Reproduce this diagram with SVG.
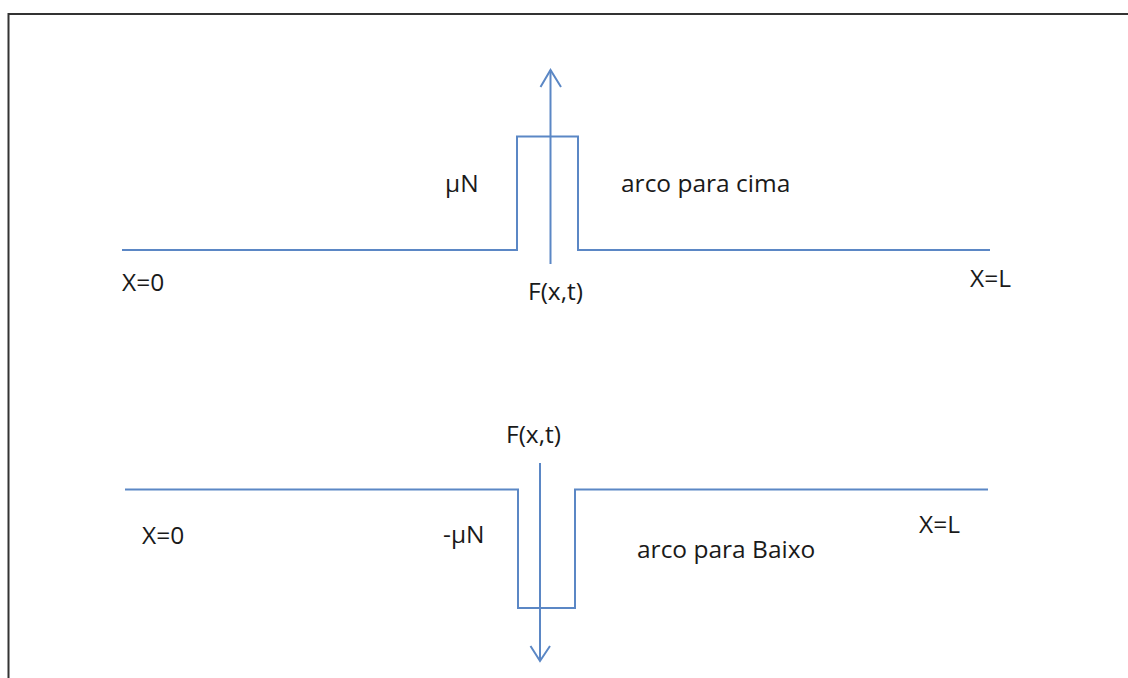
<svg xmlns="http://www.w3.org/2000/svg" width="1128" height="678" viewBox="0 0 1128 678">
<style>
.ln{fill:none;stroke:#5B87C5;stroke-width:2}
.t{font-family:"Open Sans","Liberation Sans",sans-serif;font-size:24.5px;fill:#1a1a1a}
</style>
<rect width="1128" height="678" fill="#fff"/>
<path d="M8.5,678 V14 H1128" fill="none" stroke="#333" stroke-width="2"/>
<g id="top-string">
<path class="ln" d="M122,250 H517 V136.5 H578 V250 H990"/>
</g>
<g id="bottom-string">
<path class="ln" d="M125,489.5 H518 V608 H575 V489.5 H988"/>
</g>
<g id="connectors">
<path class="ln" d="M550.5,264 V70"/>
<path class="ln" d="M540.5,87 L550.5,70 L561,87"/>
<path class="ln" d="M540,463 V661"/>
<path class="ln" d="M530.5,646 L540,661 L550,646"/>
</g>
<g id="labels">
<text class="t" x="445" y="192">μN</text>
<text class="t" x="621" y="192">arco para cima</text>
<text class="t" x="122" y="291">X=0</text>
<text class="t" x="970" y="287">X=L</text>
<text class="t" x="528" y="300">F(x,t)</text>
<text class="t" x="506" y="443">F(x,t)</text>
<text class="t" x="443" y="543">-μN</text>
<text class="t" x="142" y="544">X=0</text>
<text class="t" x="919" y="533">X=L</text>
<text class="t" x="637" y="558">arco para Baixo</text>
</g>
</svg>
